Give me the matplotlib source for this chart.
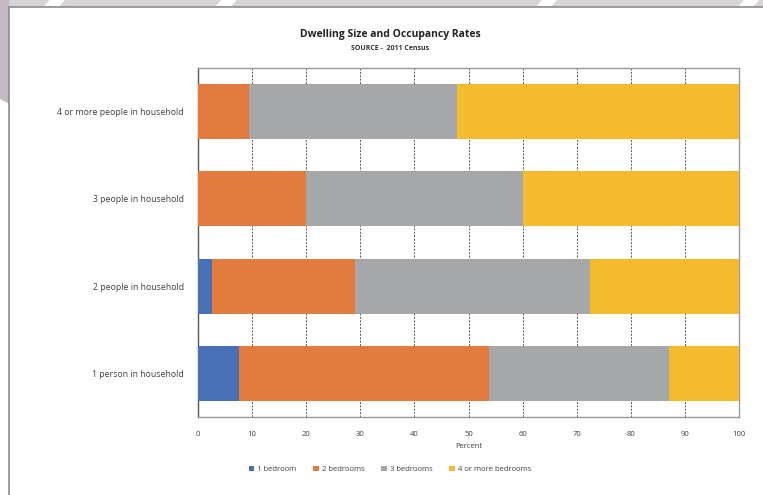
import numpy as np
import matplotlib
matplotlib.use("Agg")
import matplotlib.pyplot as plt
from matplotlib.patches import Rectangle, Polygon

plt.rcParams['font.family'] = ['Open Sans', 'DejaVu Sans']

# household size groups, bottom to top
households = ['1 person in household', '2 people in household',
              '3 people in household', '4 or more people in household']
bedrooms = ['1 bedroom', '2 bedrooms', '3 bedrooms', '4 or more bedrooms']

# percent of households by dwelling size
one_bed = [7.6, 2.6, 0.0, 0.0]
two_bed = [46.1, 26.4, 19.9, 9.4]
three_bed = [33.4, 43.5, 40.1, 38.4]
four_plus = [12.9, 27.5, 40.0, 52.2]

colors = ['#4a70b8', '#e27c3e', '#a6a7a9', '#f3bb2d']

fig = plt.figure(figsize=(7.63, 4.95), dpi=100)
fig.patch.set_facecolor('white')

# slide backdrop behind the chart panel
fig.patches.append(Polygon([[0, 1], [1, 1], [1, 0.986], [0, 0.986]],
                           closed=True, transform=fig.transFigure,
                           facecolor='#d9d3d8', edgecolor='none', zorder=-3))
fig.patches.append(Polygon([[0, 1], [0.012, 1], [0.012, 0.79], [0, 0.80]],
                           closed=True, transform=fig.transFigure,
                           facecolor='#c4b9c3', edgecolor='none', zorder=-3))
for x0 in [0.065, 0.29, 0.71, 0.975]:
    fig.patches.append(Polygon([[x0, 1], [x0 + 0.02, 1], [x0 + 0.012, 0.986],
                                [x0 - 0.008, 0.986]], closed=True,
                               transform=fig.transFigure, facecolor='white',
                               edgecolor='none', zorder=-2))
fig.patches.append(Rectangle((9 / 763, -0.01), 1.0, 0.996, transform=fig.transFigure,
                             facecolor='white', edgecolor='#8c8c8c', lw=1.2, zorder=-1))

ax = fig.add_axes([198 / 763, 78 / 495, 541 / 763, 349 / 495])
ax.set_zorder(2)
ax.set_facecolor('white')

y = np.arange(len(households))
left = np.zeros(len(households))
for vals, name, c in zip([one_bed, two_bed, three_bed, four_plus], bedrooms, colors):
    ax.barh(y, vals, left=left, height=0.63, color=c, label=name, zorder=3)
    left += np.array(vals)

ax.set_xlim(0, 100)
ax.set_ylim(-0.5, 3.5)
ax.set_xticks(np.arange(0, 101, 10))
ax.set_yticks(y)
ax.set_yticklabels(households, fontsize=6.3, color='#404040')
ax.tick_params(axis='x', labelsize=5.5, colors='#404040', length=0, pad=10)
ax.tick_params(axis='y', length=0, pad=10)
ax.xaxis.grid(True, linestyle=(0, (2, 1.5)), color='#555555', lw=0.7, zorder=0)
for s in ax.spines.values():
    s.set_color('#9a9a9a')
    s.set_linewidth(1.0)
ax.spines['left'].set_color('#555555')

ax.set_xlabel('Percent', fontsize=5.5, color='#404040', labelpad=4)

fig.text(0.511, 0.925, 'Dwelling Size and Occupancy Rates', ha='center',
         fontsize=7.5, fontweight='bold', color='#222222')
fig.text(0.511, 0.899, 'SOURCE -  2011 Census', ha='center',
         fontsize=5, fontweight='bold', color='#333333')

fig.legend(loc='center', bbox_to_anchor=(0.511, 0.052), ncol=4, frameon=False,
           fontsize=5.5, handlelength=0.7, handleheight=0.7, handletextpad=0.4,
           columnspacing=2.2, labelcolor='#404040')

fig.savefig('out.png', dpi=100)
